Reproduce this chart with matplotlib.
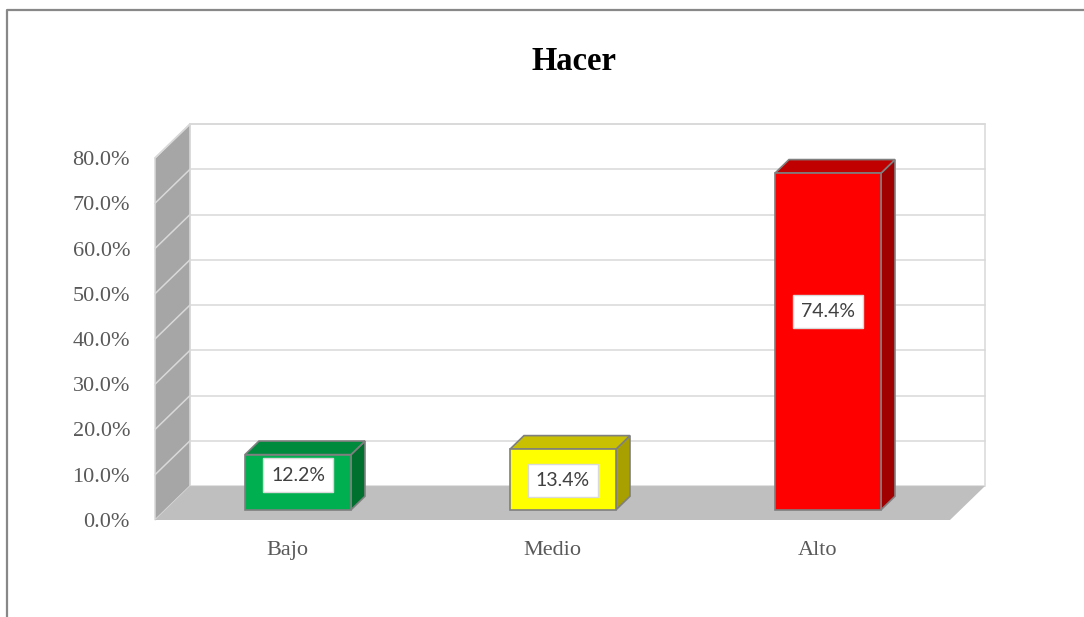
#!/usr/bin/env python3

import matplotlib
matplotlib.use("Agg")
import matplotlib.pyplot as plt
from matplotlib.patches import Polygon
from matplotlib.lines import Line2D
import numpy as np

categories = ["Bajo", "Medio", "Alto"]
values = [12.2, 13.4, 74.4]
value_labels = ["12.2%", "13.4%", "74.4%"]
y_ticks = [0, 10, 20, 30, 40, 50, 60, 70, 80]

front_colors = ["#00B050", "#FFFF00", "#FF0000"]
top_colors = ["#008A3E", "#C8C000", "#C00000"]
side_colors = ["#00702F", "#A8A000", "#A00000"]
label_height = [0.63, 0.48, 0.59]   # where excel put the boxes

# oblique depth, in data units (about 35 px right, 34 px up)
DEPTH_X = 0.132
DEPTH_Y = 7.5
BAR_W = 0.4
BAR_D0, BAR_D1 = 0.3, 0.7


def proj(x, y, d):
    return (x + d * DEPTH_X, y + d * DEPTH_Y)


def face(ax, pts, fc, ec="none", lw=0, z=1):
    ax.add_patch(Polygon(pts, closed=True, facecolor=fc, edgecolor=ec,
                         linewidth=lw, clip_on=False, zorder=z))


def main():
    fig = plt.figure(figsize=(10.84, 6.17), dpi=100)
    W, H = 1084, 617
    ax = fig.add_axes([155 / W, (H - 520) / H, 795 / W, 362 / H])
    ax.set_xlim(-0.5, 2.5)
    ax.set_ylim(0, 80)
    for s in ax.spines.values():
        s.set_visible(False)
    ax.patch.set_visible(False)

    x0, x1 = -0.5, 2.5
    top = y_ticks[-1]
    grid_c = "#D9D9D9"

    # back wall
    face(ax, [proj(x0, 0, 1), proj(x1, 0, 1), proj(x1, top, 1), proj(x0, top, 1)],
         "white", grid_c, 1.1, z=0)
    # side wall
    face(ax, [proj(x0, 0, 0), proj(x0, 0, 1), proj(x0, top, 1), proj(x0, top, 0)],
         "#A6A6A6", grid_c, 1.1, z=1)
    for v in y_ticks[1:]:
        a, b = proj(x0, v, 1), proj(x1, v, 1)
        ax.add_line(Line2D([a[0], b[0]], [a[1], b[1]], color=grid_c, lw=1.1, zorder=0.5, clip_on=False))
        a, b = proj(x0, v, 0), proj(x0, v, 1)
        ax.add_line(Line2D([a[0], b[0]], [a[1], b[1]], color=grid_c, lw=1.1, zorder=1.5, clip_on=False))
    # floor
    face(ax, [proj(x0, 0, 0), proj(x1, 0, 0), proj(x1, 0, 1), proj(x0, 0, 1)],
         "#BFBFBF", z=2)

    # bars
    for i, v in enumerate(values):
        l, r = i - BAR_W / 2, i + BAR_W / 2
        ec = "#7F7F7F"
        face(ax, [proj(r, 0, BAR_D0), proj(r, 0, BAR_D1), proj(r, v, BAR_D1), proj(r, v, BAR_D0)],
             side_colors[i], ec, 1.2, z=3)
        face(ax, [proj(l, v, BAR_D0), proj(r, v, BAR_D0), proj(r, v, BAR_D1), proj(l, v, BAR_D1)],
             top_colors[i], ec, 1.2, z=3)
        face(ax, [proj(l, 0, BAR_D0), proj(r, 0, BAR_D0), proj(r, v, BAR_D0), proj(l, v, BAR_D0)],
             front_colors[i], ec, 1.2, z=4)
        lx, ly = proj(i, v * label_height[i], BAR_D0)
        ax.text(lx, ly, value_labels[i], ha="center", va="center", fontsize=14,
                family="Lato", color="#404040", zorder=5,
                bbox=dict(boxstyle="square,pad=0.42", fc="white", ec=grid_c, lw=1))

    ax.set_yticks(y_ticks)
    ax.set_yticklabels([f"{t:.1f}%" for t in y_ticks])
    ax.set_xticks(range(len(categories)))
    ax.set_xticklabels(categories)
    ax.tick_params(axis="y", length=0, pad=18, labelsize=16, labelcolor="#595959")
    ax.tick_params(axis="x", length=0, pad=15, labelsize=16, labelcolor="#595959")
    for lab in ax.get_xticklabels() + ax.get_yticklabels():
        lab.set_family("Liberation Serif")

    fig.text(574 / W, 1 - 62 / H, "Hacer", ha="center", va="center",
             fontsize=23.5, fontweight="bold", family="Liberation Serif")

    # outer frame (left and top only visible)
    fig.add_artist(Line2D([7 / W, 7 / W, 1], [0, 1 - 10 / H, 1 - 10 / H],
                          transform=fig.transFigure, color="#888888", lw=1.6))

    fig.savefig("out.png", dpi=100)


if __name__ == "__main__":
    main()
